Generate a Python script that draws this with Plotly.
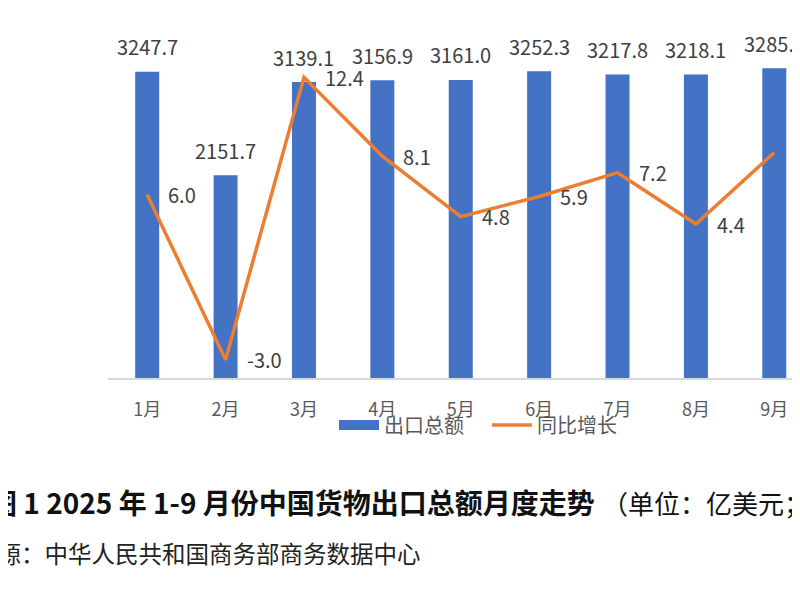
import plotly.graph_objects as go

months = ["1月", "2月", "3月", "4月", "5月", "6月", "7月", "8月", "9月"]
export_total = [3247.7, 2151.7, 3139.1, 3156.9, 3161.0, 3252.3, 3217.8, 3218.1, 3285.7]
yoy_growth = [6.0, -3.0, 12.4, 8.1, 4.8, 5.9, 7.2, 4.4, 8.3]

BLUE = "#4472C4"
ORANGE = "#ED7D31"
LABEL_GRAY = "#404040"
AXIS_GRAY = "#595959"
FONT = "Noto Sans CJK SC"

# plot area in paper pixels (page adds an 8px body margin)
PLOT_L, PLOT_W = 100, 700
PLOT_T, PLOT_H = 40, 330


def px(x):
    return (x - 8 - PLOT_L) / PLOT_W


def py(y):
    return (PLOT_T + PLOT_H - (y - 8)) / PLOT_H


fig = go.Figure()

fig.add_trace(
    go.Bar(
        x=months,
        y=export_total,
        marker=dict(color=BLUE, line=dict(width=0)),
        name="出口总额",
        showlegend=False,
    )
)
fig.add_trace(
    go.Scatter(
        x=months,
        y=yoy_growth,
        mode="lines",
        line=dict(color=ORANGE, width=3.5),
        name="同比增长",
        yaxis="y2",
        showlegend=False,
    )
)
# legend proxies (wide blue patch, orange line)
fig.add_trace(
    go.Scatter(x=[None], y=[None], mode="lines", line=dict(color=BLUE, width=10), name="出口总额    ")
)
fig.add_trace(
    go.Scatter(x=[None], y=[None], mode="lines", line=dict(color=ORANGE, width=3.5), name="同比增长")
)

annotations = []
for m, v in zip(months, export_total):
    annotations.append(
        dict(x=m, y=v, xref="x", yref="y", text=f"{v:.1f}", showarrow=False,
             yanchor="middle", yshift=25, font=dict(size=20, color=LABEL_GRAY, family=FONT))
    )
for m, v in zip(months, yoy_growth):
    annotations.append(
        dict(x=m, y=v, xref="x", yref="y2", text=f"{v:.1f}", showarrow=False,
             xanchor="left", xshift=19, yanchor="middle",
             font=dict(size=20, color=LABEL_GRAY, family=FONT))
    )

# caption and source below the chart (cropped like the original)
annotations.append(
    dict(x=px(597), y=py(502), xref="paper", yref="paper",
         text="<b>图 1 2025 年 1-9 月份中国货物出口总额月度走势</b>", showarrow=False,
         xanchor="right", yanchor="middle", font=dict(size=28, color="#111111", family=FONT))
)
annotations.append(
    dict(x=px(600), y=py(502), xref="paper", yref="paper",
         text="（单位：亿美元；%）", showarrow=False,
         xanchor="left", yanchor="middle", font=dict(size=26, color="#111111", family=FONT))
)
annotations.append(
    dict(x=px(423), y=py(553), xref="paper", yref="paper",
         text="资料来源：中华人民共和国商务部商务数据中心", showarrow=False,
         xanchor="right", yanchor="middle", font=dict(size=23.5, color="#222222", family=FONT))
)

fig.update_layout(
    width=800,
    height=600,
    margin=dict(l=PLOT_L, r=800 - PLOT_L - PLOT_W, t=PLOT_T, b=600 - PLOT_T - PLOT_H),
    paper_bgcolor="white",
    plot_bgcolor="white",
    bargap=0.694,
    font=dict(family=FONT),
    xaxis=dict(
        range=[-0.5, 8.43],
        showline=True,
        linecolor="#D9D9D9",
        linewidth=1.5,
        showgrid=False,
        ticks="",
        tickfont=dict(size=18, color=AXIS_GRAY, family=FONT),
        ticklabelstandoff=15,
    ),
    yaxis=dict(range=[0, 3500], visible=False, showgrid=False),
    yaxis2=dict(range=[-4, 14], overlaying="y", side="right", visible=False, showgrid=False),
    legend=dict(
        orientation="h",
        x=px(478),
        xanchor="center",
        y=py(425),
        yanchor="middle",
        font=dict(size=20, color=AXIS_GRAY, family=FONT),
        bgcolor="rgba(0,0,0,0)",
        itemwidth=40,
        tracegroupgap=0,
    ),
    annotations=annotations,
)

fig.write_html("out.html")
